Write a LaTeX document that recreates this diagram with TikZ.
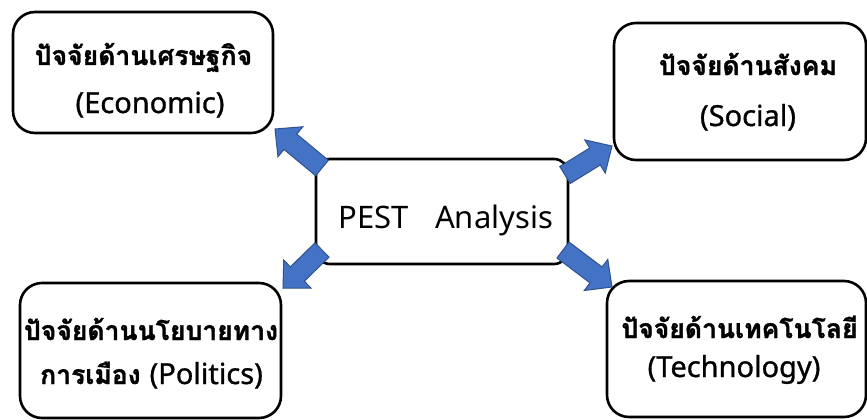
\documentclass[tikz,border=0pt]{standalone}
\usepackage{fontspec}
\newfontfamily\thaifont[Script=Thai, BoldFeatures={FakeBold=1.3}]{Loma}
\newfontfamily\latinfont{Noto Sans}
\newfontfamily\latinsemi[FakeBold=1]{Noto Sans}
\usetikzlibrary{calc}
\definecolor{arrowfill}{HTML}{4472C4}
\definecolor{arrowline}{HTML}{2F528F}
\tikzset{
  card/.style={draw=black, line width=2.6pt, rounded corners=22pt, fill=white},
  core/.style={draw=black, line width=2.6pt, rounded corners=14pt, fill=white},
  txt/.style={anchor=base, inner sep=0pt, font=\thaifont\bfseries\fontsize{26.5}{32}\selectfont},
  lat/.style={anchor=base, inner sep=0pt, font=\latinsemi\fontsize{29}{34}\selectfont},
  coretxt/.style={anchor=base, inner sep=0pt, font=\latinfont\fontsize{31}{36}\selectfont},
  blockarrow/.style={fill=arrowfill, draw=arrowline, line width=1pt, line join=miter}
}
\newcommand{\fatarrow}[2]{%
  \path[blockarrow]
    ($(#1)!10pt!90:(#2)$) --
    ($($(#2)!20pt!(#1)$)!10pt!-90:(#1)$) --
    ($($(#2)!20pt!(#1)$)!19.5pt!-90:(#1)$) --
    (#2) --
    ($($(#2)!20pt!(#1)$)!19.5pt!90:(#1)$) --
    ($($(#2)!20pt!(#1)$)!10pt!90:(#1)$) --
    ($(#1)!10pt!-90:(#2)$) -- cycle;}
\begin{document}
\begin{tikzpicture}[x=1pt,y=-1pt]
\useasboundingbox (0,0) rectangle (867,420);
% boxes
\draw[card] (13,12) rectangle (273,133);
\node[inner sep=0pt] (eco) at (143,72.5) {};
\draw[card] (614,23) rectangle (866,160);
\node[inner sep=0pt] (soc) at (740,91.5) {};
\draw[card] (20,283) rectangle (281,418);
\node[inner sep=0pt] (pol) at (150.5,350.5) {};
\draw[card] (607,281) rectangle (866,417);
\node[inner sep=0pt] (tec) at (736.5,349) {};
\draw[core] (316,159) rectangle (568,264);
\node[inner sep=0pt] (pest) at (442,211.5) {};
% texts
\node[txt] (ecoA) at (143.5,65) {ปัจจัยด้านเศรษฐกิจ};
\node[lat] (ecoB) at (150,113) {(Economic)};
\node[txt] (socA) at (748,75) {ปัจจัยด้านสังคม};
\node[lat] (socB) at (748,126) {(Social)};
\node[txt] (polA) at (151,340) {ปัจจัยด้านนโยบายทาง};
\node[txt] (polB) at (151.5,384) {การเมือง {\latinsemi\fontsize{29}{34}\selectfont(Politics)}};
\node[txt] (tecA) at (739.5,338) {ปัจจัยด้านเทคโนโลยี};
\node[lat] (tecB) at (734,377) {(Technology)};
\node[coretxt] (pestT) at (446,228) {PEST\hspace{26pt}Analysis};
% arrows
\coordinate (t1) at (322,168); \coordinate (h1) at (275,129);
\coordinate (t2) at (565,175); \coordinate (h2) at (612,146);
\coordinate (t3) at (322,250); \coordinate (h3) at (283,288);
\coordinate (t4) at (563,250); \coordinate (h4) at (612,287);
\fatarrow{t1}{h1}
\fatarrow{t2}{h2}
\fatarrow{t3}{h3}
\fatarrow{t4}{h4}
\end{tikzpicture}
\end{document}
